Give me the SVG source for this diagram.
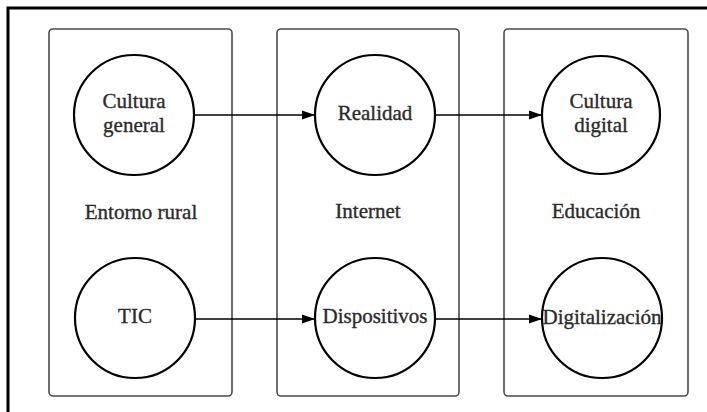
<svg xmlns="http://www.w3.org/2000/svg" width="707" height="412" viewBox="0 0 707 412">
<defs>
<style>
.frame{fill:none;stroke:#000;stroke-width:3}
.box{fill:#fff;stroke:#4a4a4a;stroke-width:1.6}
.node{fill:#fff;stroke:#000;stroke-width:2.2}
.lbl{font-family:"Liberation Serif","Times New Roman",serif;font-size:21px;fill:#2b2b2b;stroke:#2b2b2b;stroke-width:0.35;text-anchor:middle}
.edge{fill:none;stroke:#000;stroke-width:1.5}
</style>
<marker id="arr" markerWidth="13" markerHeight="10" refX="13" refY="5" orient="auto" markerUnits="userSpaceOnUse">
<path d="M0,0.5 L13,5 L0,9.5 Z" fill="#000"/>
</marker>
</defs>
<rect x="0" y="0" width="707" height="412" fill="#fff"/>
<rect class="frame" x="8" y="8" width="720" height="420"/>
<g id="group-entorno">
<rect class="box" x="49" y="29" width="183" height="367" rx="4"/>
<text class="lbl" x="141" y="219">Entorno rural</text>
</g>
<g id="group-internet">
<rect class="box" x="277" y="29" width="182" height="367" rx="4"/>
<text class="lbl" x="368" y="218">Internet</text>
</g>
<g id="group-educacion">
<rect class="box" x="504" y="29" width="184" height="367" rx="4"/>
<text class="lbl" x="596" y="218">Educación</text>
</g>
<g id="edges">
<line class="edge" x1="194" y1="115" x2="315" y2="115" marker-end="url(#arr)"/>
<line class="edge" x1="435" y1="115" x2="542" y2="115" marker-end="url(#arr)"/>
<line class="edge" x1="195" y1="319" x2="315" y2="319" marker-end="url(#arr)"/>
<line class="edge" x1="435" y1="319" x2="542" y2="319" marker-end="url(#arr)"/>
</g>
<g id="node-cultura-general">
<circle class="node" cx="134" cy="115" r="60"/>
<text class="lbl" x="134" y="108">Cultura</text>
<text class="lbl" x="134" y="132">general</text>
</g>
<g id="node-tic">
<circle class="node" cx="135" cy="318" r="60"/>
<text class="lbl" x="135" y="323">TIC</text>
</g>
<g id="node-realidad">
<circle class="node" cx="375" cy="115" r="60"/>
<text class="lbl" x="375" y="120">Realidad</text>
</g>
<g id="node-dispositivos">
<circle class="node" cx="375" cy="318" r="60"/>
<text class="lbl" x="375" y="323">Dispositivos</text>
</g>
<g id="node-cultura-digital">
<circle class="node" cx="601" cy="115" r="59"/>
<text class="lbl" x="601" y="108">Cultura</text>
<text class="lbl" x="601" y="132">digital</text>
</g>
<g id="node-digitalizacion">
<circle class="node" cx="602" cy="318" r="60"/>
<text class="lbl" x="602" y="324">Digitalización</text>
</g>
</svg>
